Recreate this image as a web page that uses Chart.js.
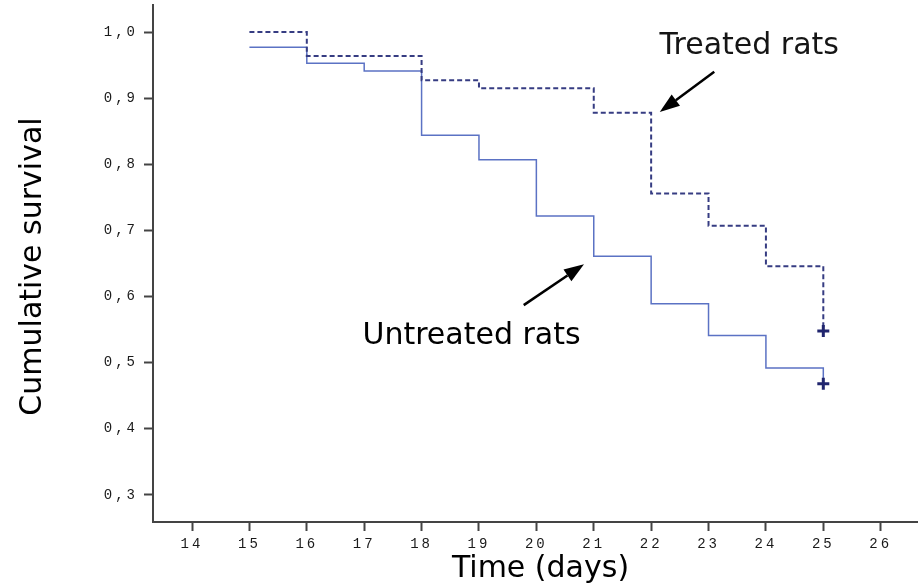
<!DOCTYPE html>
<html>
<head>
<meta charset="utf-8">
<script src="https://cdn.jsdelivr.net/npm/chart.js@4.4.1/dist/chart.umd.min.js"></script>
<style>
html, body { margin: 0; padding: 0; background: #fff; }
</style>
</head>
<body>
<canvas id="myChart" width="918" height="587"></canvas>
<script>
'use strict';
// survival curves
let untreatedDays = [15, 16, 17, 18, 19, 20, 21, 22, 23, 24, 25];
let untreatedSurvival = [0.977, 0.953, 0.941, 0.844, 0.807, 0.722, 0.661, 0.589, 0.541, 0.492, 0.468];
let treatedDays = [15, 16, 18, 19, 21, 22, 23, 24, 25];
let treatedSurvival = [1.0, 0.964, 0.927, 0.915, 0.878, 0.756, 0.707, 0.646, 0.548];

let xTicks = [14, 15, 16, 17, 18, 19, 20, 21, 22, 23, 24, 25, 26];
let yTicks = [0.3, 0.4, 0.5, 0.6, 0.7, 0.8, 0.9, 1.0];

let xTitle = 'Time (days)';
let yTitle = 'Cumulative survival';

// callouts, placed in data units
let notes = [
    {text: 'Treated rats', x: 23.71, y: 0.979, fromX: 23.10, fromY: 0.940, toX: 22.15, toY: 0.879},
    {text: 'Untreated rats', x: 18.87, y: 0.540, fromX: 19.78, fromY: 0.587, toX: 20.83, toY: 0.649}
];

let titleFont = '30px "DejaVu Sans"';

function makePoints(xs, ys) {
    let pts = [];
    for (let i = 0; i < xs.length; i++) {
        pts.push({x: xs[i], y: ys[i]});
    }
    return pts;
}

// only the last point gets the censor "+"
function censorRadius(xs) {
    return xs.map((v, i) => i === xs.length - 1 ? 6 : 0);
}

function drawArrow(ctx, x1, y1, x2, y2) {
    let ang = Math.atan2(y2 - y1, x2 - x1);
    let headLen = 20;
    let headHalf = 7;
    let bx = x2 - headLen * Math.cos(ang);
    let by = y2 - headLen * Math.sin(ang);
    ctx.beginPath();
    ctx.moveTo(x1, y1);
    ctx.lineTo(bx, by);
    ctx.lineWidth = 2.5;
    ctx.strokeStyle = '#000';
    ctx.stroke();
    ctx.beginPath();
    ctx.moveTo(x2, y2);
    ctx.lineTo(bx + headHalf * Math.sin(ang), by - headHalf * Math.cos(ang));
    ctx.lineTo(bx - headHalf * Math.sin(ang), by + headHalf * Math.cos(ang));
    ctx.closePath();
    ctx.fillStyle = '#000';
    ctx.fill();
}

let textPlugin = {
    id: 'textPlugin',
    beforeDraw(chart) {
        // the tick labels in the picture are widely spaced
        chart.ctx.letterSpacing = '3px';
    },
    afterDraw(chart) {
        let ctx = chart.ctx;
        let xs = chart.scales.x;
        let ys = chart.scales.y;
        ctx.save();
        ctx.letterSpacing = '0px';
        ctx.font = titleFont;
        ctx.fillStyle = '#151515';
        ctx.textAlign = 'center';
        ctx.textBaseline = 'middle';

        for (let n of notes) {
            ctx.fillText(n.text, xs.getPixelForValue(n.x), ys.getPixelForValue(n.y));
            drawArrow(ctx, xs.getPixelForValue(n.fromX), ys.getPixelForValue(n.fromY),
                xs.getPixelForValue(n.toX), ys.getPixelForValue(n.toY));
        }

        ctx.fillText(xTitle, (xs.left + xs.right) / 2 + 5, 569);

        ctx.translate(33, (ys.top + ys.bottom) / 2 + 3);
        ctx.rotate(-Math.PI / 2);
        ctx.fillText(yTitle, 0, 0);
        ctx.restore();
    }
};

let ctx = document.getElementById('myChart').getContext('2d');
let chart = new Chart(ctx, {
    type: 'line',
    data: {
        datasets: [
            {
                label: 'Treated rats',
                data: makePoints(treatedDays, treatedSurvival),
                stepped: true,
                borderColor: '#363c82',
                borderWidth: 2,
                borderDash: [5, 3],
                pointStyle: 'cross',
                pointRadius: censorRadius(treatedDays),
                pointBorderWidth: 3,
                pointBorderColor: '#20256e',
                fill: false
            },
            {
                label: 'Untreated rats',
                data: makePoints(untreatedDays, untreatedSurvival),
                stepped: true,
                borderColor: '#5b72c4',
                borderWidth: 1.5,
                pointStyle: 'cross',
                pointRadius: censorRadius(untreatedDays),
                pointBorderWidth: 3,
                pointBorderColor: '#20256e',
                fill: false
            }
        ]
    },
    options: {
        responsive: false,
        animation: false,
        layout: {autoPadding: false, padding: {top: 5, right: 0, left: 0, bottom: 0}},
        plugins: {
            legend: {display: false},
            tooltip: {enabled: false}
        },
        scales: {
            x: {
                type: 'linear',
                min: 13.32,
                max: 26.65,
                afterBuildTicks: axis => { axis.ticks = xTicks.map(v => ({value: v})); },
                afterFit: axis => {
                    axis.height = 65;
                    axis.paddingLeft = 0;
                    axis.paddingRight = 0;
                },
                grid: {drawOnChartArea: false, tickLength: 9, tickColor: '#444', tickWidth: 2},
                border: {color: '#444', width: 2},
                ticks: {
                    autoSkip: false,
                    maxRotation: 0,
                    padding: 5,
                    color: '#1a1a1a',
                    font: {family: '"Liberation Mono"', size: 14}
                }
            },
            y: {
                min: 0.259,
                max: 1.041,
                afterBuildTicks: axis => { axis.ticks = yTicks.map(v => ({value: v})); },
                afterFit: axis => {
                    axis.width = 153;
                    axis.paddingTop = 0;
                    axis.paddingBottom = 0;
                },
                grid: {drawOnChartArea: false, tickLength: 9, tickColor: '#444', tickWidth: 2},
                border: {color: '#444', width: 2},
                ticks: {
                    padding: 6,
                    color: '#1a1a1a',
                    font: {family: '"Liberation Mono"', size: 14},
                    callback: v => v.toFixed(1).replace('.', ',')
                }
            }
        }
    },
    plugins: [textPlugin]
});
</script>
</body>
</html>
